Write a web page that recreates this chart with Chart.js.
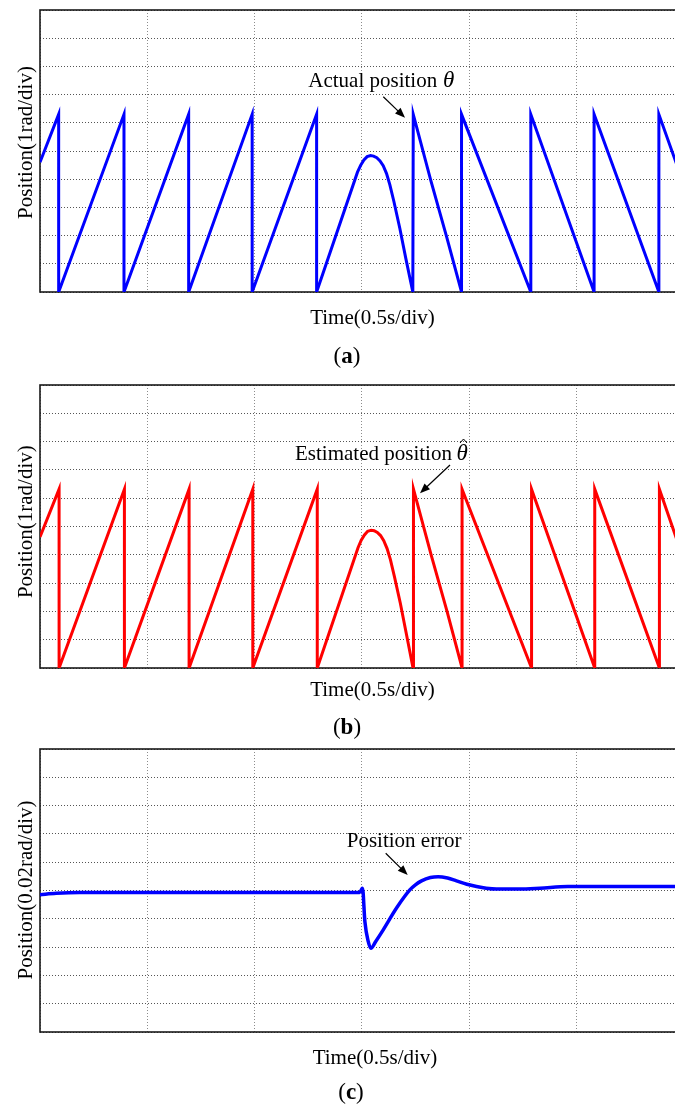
<!DOCTYPE html>
<html>
<head>
<meta charset="utf-8">
<script src="https://cdn.jsdelivr.net/npm/chart.js@4.4.0/dist/chart.umd.min.js"></script>
<style>
html, body { margin: 0; padding: 0; background: #fff; overflow: hidden; width: 675px; height: 1106px; }
canvas { position: absolute; left: 0; }
</style>
</head>
<body>
<canvas id="chartA" width="710" height="372" style="top:0px"></canvas>
<canvas id="chartB" width="710" height="368" style="top:372px"></canvas>
<canvas id="chartC" width="710" height="366" style="top:740px"></canvas>
<script>
// time in divisions (0.5 s/div), position in divisions
const actualTime = [0, 0.174, 0.174, 0.783, 0.783, 1.386, 1.386, 1.978, 1.978, 2.579, 2.579,
    2.96, 2.99, 3.02, 3.05, 3.082, 3.11, 3.14, 3.17, 3.2, 3.231, 3.262, 3.3, 3.355, 3.41, 3.476,
    3.48, 3.644, 3.79, 3.93,
    3.93, 4.576, 4.576, 5.166, 5.166, 5.77, 5.77, 6.2];
const actualPos = [4.6, 6.3, 0, 6.3, 0, 6.3, 0, 6.3, 0, 6.3, 0,
    4.25, 4.5, 4.68, 4.8, 4.84, 4.82, 4.76, 4.65, 4.48, 4.2, 3.8, 3.2, 2.25, 1.2, 0,
    6.3, 3.95, 1.97, 0,
    6.3, 0, 6.3, 0, 6.3, 0, 6.3, 1.7];

const estTime = [0, 0.178, 0.178, 0.787, 0.787, 1.39, 1.39, 1.984, 1.984, 2.585, 2.585,
    2.965, 2.995, 3.025, 3.055, 3.088, 3.115, 3.145, 3.175, 3.205, 3.236, 3.267, 3.305, 3.36, 3.415, 3.478,
    3.482, 3.648, 3.795, 3.935,
    3.935, 4.583, 4.583, 5.172, 5.172, 5.775, 5.775, 6.2];
const estPos = [4.63, 6.32, 0, 6.32, 0, 6.32, 0, 6.32, 0, 6.32, 0,
    4.25, 4.52, 4.7, 4.83, 4.87, 4.85, 4.79, 4.68, 4.5, 4.22, 3.83, 3.22, 2.28, 1.22, 0,
    6.32, 3.98, 2.0, 0,
    6.32, 0, 6.32, 0, 6.32, 0, 6.32, 1.65];

const errTime = [0, 0.15, 0.37, 1.5, 2.98, 3.0, 3.007, 3.029, 3.06, 3.085, 3.13, 3.2, 3.324,
    3.448, 3.5, 3.557, 3.64, 3.712, 3.8, 3.883, 3.98, 4.07, 4.16, 4.256, 4.47, 4.66, 4.92, 5.5, 6.2];
const errPos = [4.85, 4.9, 4.93, 4.93, 4.93, 5.05, 5.08, 3.9, 3.2, 2.96, 3.2, 3.61, 4.38,
    5.02, 5.2, 5.34, 5.46, 5.49, 5.44, 5.34, 5.22, 5.14, 5.08, 5.05, 5.05, 5.08, 5.14, 5.14, 5.14];

const SERIF = '"Liberation Serif", "Times New Roman", serif';

function arrow(ctx, x1, y1, x2, y2) {
    const ang = Math.atan2(y2 - y1, x2 - x1);
    const len = 10, w = 4;
    ctx.beginPath();
    ctx.moveTo(x1, y1);
    ctx.lineTo(x2 - Math.cos(ang) * len * 0.8, y2 - Math.sin(ang) * len * 0.8);
    ctx.stroke();
    ctx.beginPath();
    ctx.moveTo(x2, y2);
    ctx.lineTo(x2 - Math.cos(ang) * len - Math.sin(ang) * w, y2 - Math.sin(ang) * len + Math.cos(ang) * w);
    ctx.lineTo(x2 - Math.cos(ang) * len + Math.sin(ang) * w, y2 - Math.sin(ang) * len - Math.cos(ang) * w);
    ctx.closePath();
    ctx.fill();
}

const paperPlugin = {
    id: 'paper',
    beforeDatasetsDraw(chart) {
        const ctx = chart.ctx, a = chart.chartArea;
        ctx.save();
        ctx.strokeStyle = '#1a1a1a';
        ctx.lineWidth = 1.6;
        ctx.strokeRect(a.left, a.top, a.right - a.left, a.bottom - a.top);
        ctx.restore();
    },
    afterDraw(chart, args, o) {
        const ctx = chart.ctx;
        ctx.save();
        ctx.fillStyle = '#000';
        ctx.strokeStyle = '#000';
        ctx.lineWidth = 1;
        ctx.font = '21px ' + SERIF;
        ctx.textBaseline = 'middle';
        ctx.textAlign = 'center';
        // y title
        ctx.save();
        ctx.translate(26, o.yTitleY);
        ctx.rotate(-Math.PI / 2);
        ctx.fillText(o.yTitle, 0, 0);
        ctx.restore();
        // x title
        ctx.fillText('Time(0.5s/div)', o.xTitleX, o.xTitleY);
        // panel letter: regular brackets, bold letter
        ctx.font = '23px ' + SERIF;
        const wl = ctx.measureText('(').width;
        ctx.font = 'bold 23px ' + SERIF;
        const wm = ctx.measureText(o.letter).width;
        const lx = o.letterX - (2 * wl + wm) / 2;
        ctx.textAlign = 'left';
        ctx.font = '23px ' + SERIF;
        ctx.fillText('(', lx, o.letterY);
        ctx.font = 'bold 23px ' + SERIF;
        ctx.fillText(o.letter, lx + wl, o.letterY);
        ctx.font = '23px ' + SERIF;
        ctx.fillText(')', lx + wl + wm, o.letterY);
        // annotation
        ctx.textBaseline = 'alphabetic';
        ctx.font = '21px ' + SERIF;
        ctx.fillText(o.note, o.noteX, o.noteY);
        if (o.sym) {
            ctx.font = 'italic 23px ' + SERIF;
            ctx.fillText('\u03b8', o.symX, o.noteY);
            if (o.hat) {
                const hx = o.symX + 7, hy = o.noteY - 21;
                ctx.beginPath();
                ctx.moveTo(hx - 3.5, hy + 4);
                ctx.lineTo(hx, hy);
                ctx.lineTo(hx + 3.5, hy + 4);
                ctx.stroke();
            }
        }
        ctx.lineWidth = 1.2;
        arrow(ctx, o.arrow[0], o.arrow[1], o.arrow[2], o.arrow[3]);
        ctx.restore();
    }
};

function makePanel(id, times, values, color, lineWidth, smooth, box, text) {
    const pts = times.map((t, i) => ({ x: t, y: values[i] }));
    const gridX = { display: true, color: '#8c8c8c', lineWidth: 1, drawTicks: false };
    const gridY = { display: true, color: '#555', lineWidth: 1, drawTicks: false };
    return new Chart(document.getElementById(id), {
        type: 'line',
        data: {
            datasets: [{
                data: pts,
                borderColor: color,
                borderWidth: lineWidth,
                pointRadius: 0,
                tension: 0,
                cubicInterpolationMode: smooth ? 'monotone' : 'default',
                fill: false
            }]
        },
        options: {
            responsive: false,
            animation: false,
            devicePixelRatio: 1,
            layout: { padding: { top: box.top, left: 0, right: 5, bottom: 0 } },
            plugins: { legend: { display: false }, tooltip: { enabled: false }, paper: text },
            scales: {
                x: {
                    type: 'linear', min: 0, max: 6.2,
                    ticks: { display: false, stepSize: 1 },
                    grid: gridX,
                    border: { display: false, dash: [1, 2] },
                    afterFit(scale) { scale.height = box.h - box.bottom; }
                },
                y: {
                    min: 0, max: 10,
                    ticks: { display: false, stepSize: 1 },
                    grid: gridY,
                    border: { display: false, dash: [1, 2] },
                    afterFit(scale) { scale.width = 40; }
                }
            }
        },
        plugins: [paperPlugin]
    });
}

makePanel('chartA', actualTime, actualPos, '#0000ff', 3, false,
    { top: 10, bottom: 292, h: 372 },
    { yTitle: 'Position(1rad/div)', yTitleY: 142.5, xTitleX: 372.5, xTitleY: 318.3,
      letter: 'a', letterX: 347, letterY: 356.7,
      note: 'Actual position', noteX: 308.3, noteY: 86.7, sym: true, symX: 443, hat: false,
      arrow: [383.3, 96.7, 405, 117.7] });

makePanel('chartB', estTime, estPos, '#ff0000', 3, false,
    { top: 13, bottom: 296, h: 368 },
    { yTitle: 'Position(1rad/div)', yTitleY: 149.7, xTitleX: 372.5, xTitleY: 318,
      letter: 'b', letterX: 347, letterY: 356,
      note: 'Estimated position', noteX: 295, noteY: 88, sym: true, symX: 456.5, hat: true,
      arrow: [450, 93, 420, 121.3] });

makePanel('chartC', errTime, errPos, '#0000ff', 3.5, true,
    { top: 9, bottom: 292, h: 366 },
    { yTitle: 'Position(0.02rad/div)', yTitleY: 150, xTitleX: 375, xTitleY: 318,
      letter: 'c', letterX: 351, letterY: 353,
      note: 'Position error', noteX: 346.7, noteY: 107.3, sym: false,
      arrow: [385.7, 113.3, 407.7, 135] });
</script>
</body>
</html>
